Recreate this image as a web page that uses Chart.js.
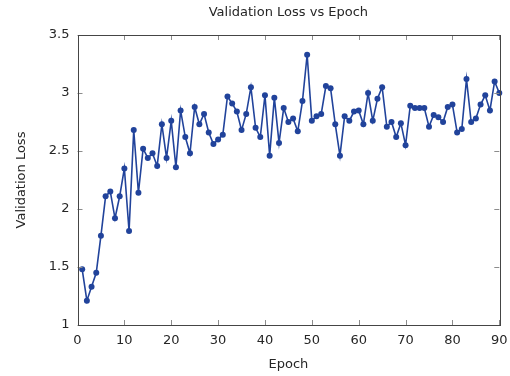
<!DOCTYPE html>
<html>
<head>
<meta charset="utf-8">
<script src="https://cdn.jsdelivr.net/npm/chart.js@4/dist/chart.umd.min.js"></script>
<style>
  html, body { margin: 0; padding: 0; background: #fff; }
  #wrap { width: 510px; height: 376px; }
</style>
</head>
<body>
<div id="wrap"><canvas id="lossChart" width="510" height="376"></canvas></div>
<script>
/* Dane: numer epoki i strata walidacyjna */
var epochs = [];
for (var e = 1; e <= 90; e++) epochs.push(e);

var valLoss = [
    1.48, 1.21, 1.33, 1.45, 1.77, 2.11, 2.15, 1.92, 2.11, 2.35,
    1.81, 2.68, 2.14, 2.52, 2.44, 2.48, 2.37, 2.73, 2.44, 2.76,
    2.36, 2.85, 2.62, 2.48, 2.88, 2.73, 2.82, 2.66, 2.56, 2.60,
    2.64, 2.97, 2.91, 2.84, 2.68, 2.82, 3.05, 2.70, 2.62, 2.98,
    2.46, 2.96, 2.57, 2.87, 2.75, 2.78, 2.67, 2.93, 3.33, 2.76,
    2.80, 2.82, 3.06, 3.04, 2.73, 2.46, 2.80, 2.76, 2.84, 2.85,
    2.73, 3.00, 2.76, 2.95, 3.05, 2.71, 2.75, 2.62, 2.74, 2.55,
    2.89, 2.87, 2.87, 2.87, 2.71, 2.81, 2.79, 2.75, 2.88, 2.90,
    2.66, 2.69, 3.12, 2.75, 2.78, 2.90, 2.98, 2.85, 3.10, 3.00
];

var xTicks = [0, 10, 20, 30, 40, 50, 60, 70, 80, 90];
var yTicks = [1, 1.5, 2, 2.5, 3, 3.5];

var points = epochs.map(function (ep, i) { return { x: ep, y: valLoss[i] }; });

var FONT = '"DejaVu Sans", sans-serif';
var TEXT = '#262626';

/* Ramka wykresu, znaczniki do środka i tytuł */
var framePlugin = {
    id: 'frame',
    afterDraw: function (chart) {
        var c = chart.ctx;
        var a = chart.chartArea;
        var sx = chart.scales.x, sy = chart.scales.y;
        c.save();
        c.strokeStyle = '#8c8c8c';
        c.lineWidth = 1;
        c.beginPath();
        xTicks.forEach(function (t) {
            var px = Math.round(sx.getPixelForValue(t)) + 0.5;
            c.moveTo(px, a.bottom); c.lineTo(px, a.bottom - 5);
            c.moveTo(px, a.top); c.lineTo(px, a.top + 5);
        });
        yTicks.forEach(function (t) {
            var py = Math.round(sy.getPixelForValue(t)) + 0.5;
            c.moveTo(a.left, py); c.lineTo(a.left + 5, py);
            c.moveTo(a.right, py); c.lineTo(a.right - 5, py);
        });
        c.stroke();
        c.strokeStyle = '#454545';
        c.strokeRect(Math.round(a.left) + 0.5, Math.round(a.top) + 0.5,
            Math.round(a.right - a.left), Math.round(a.bottom - a.top));
        c.fillStyle = TEXT;
        c.font = '13px ' + FONT;
        c.textAlign = 'center';
        c.textBaseline = 'middle';
        c.fillText('Validation Loss vs Epoch', (a.left + a.right) / 2, 13);
        c.restore();
    }
};

var ctx = document.getElementById('lossChart');
var chart = new Chart(ctx, {
    type: 'line',
    data: {
        datasets: [
            {
                label: 'Validation Loss',
                data: points,
                borderColor: '#21439b',
                backgroundColor: '#21439b',
                borderWidth: 1.6,
                pointRadius: 3,
                pointHoverRadius: 3,
                pointBorderWidth: 0,
                tension: 0,
                clip: false
            }
        ]
    },
    options: {
        responsive: false,
        maintainAspectRatio: false,
        animation: false,
        layout: { padding: { top: 35, right: 10.7, left: 0, bottom: 0 } },
        plugins: {
            legend: { display: false },
            title: { display: false },
            tooltip: { enabled: false }
        },
        scales: {
            x: {
                type: 'linear',
                min: 0,
                max: 90,
                afterFit: function (s) { s.height = 51; s.paddingLeft = 0; s.paddingRight = 0; },
                afterBuildTicks: function (s) { s.ticks = xTicks.map(function (v) { return { value: v }; }); },
                grid: { display: false, drawTicks: false },
                border: { display: false },
                ticks: { color: TEXT, font: { family: FONT, size: 13 }, padding: 8, maxRotation: 0 },
                title: { display: true, text: 'Epoch', color: TEXT, font: { family: FONT, size: 13 }, padding: { top: 4, bottom: 4 } }
            },
            y: {
                type: 'linear',
                min: 1,
                max: 3.5,
                afterFit: function (s) { s.width = 77.5; s.paddingTop = 0; s.paddingBottom = 0; },
                afterBuildTicks: function (s) { s.ticks = yTicks.map(function (v) { return { value: v }; }); },
                grid: { display: false, drawTicks: false },
                border: { display: false },
                ticks: {
                    color: TEXT, font: { family: FONT, size: 13 }, padding: 8,
                    callback: function (v) { return String(v); }
                },
                title: { display: true, text: 'Validation Loss', color: TEXT, font: { family: FONT, size: 13 }, padding: { top: 14, bottom: 4 } }
            }
        }
    },
    plugins: [framePlugin]
});
</script>
</body>
</html>
